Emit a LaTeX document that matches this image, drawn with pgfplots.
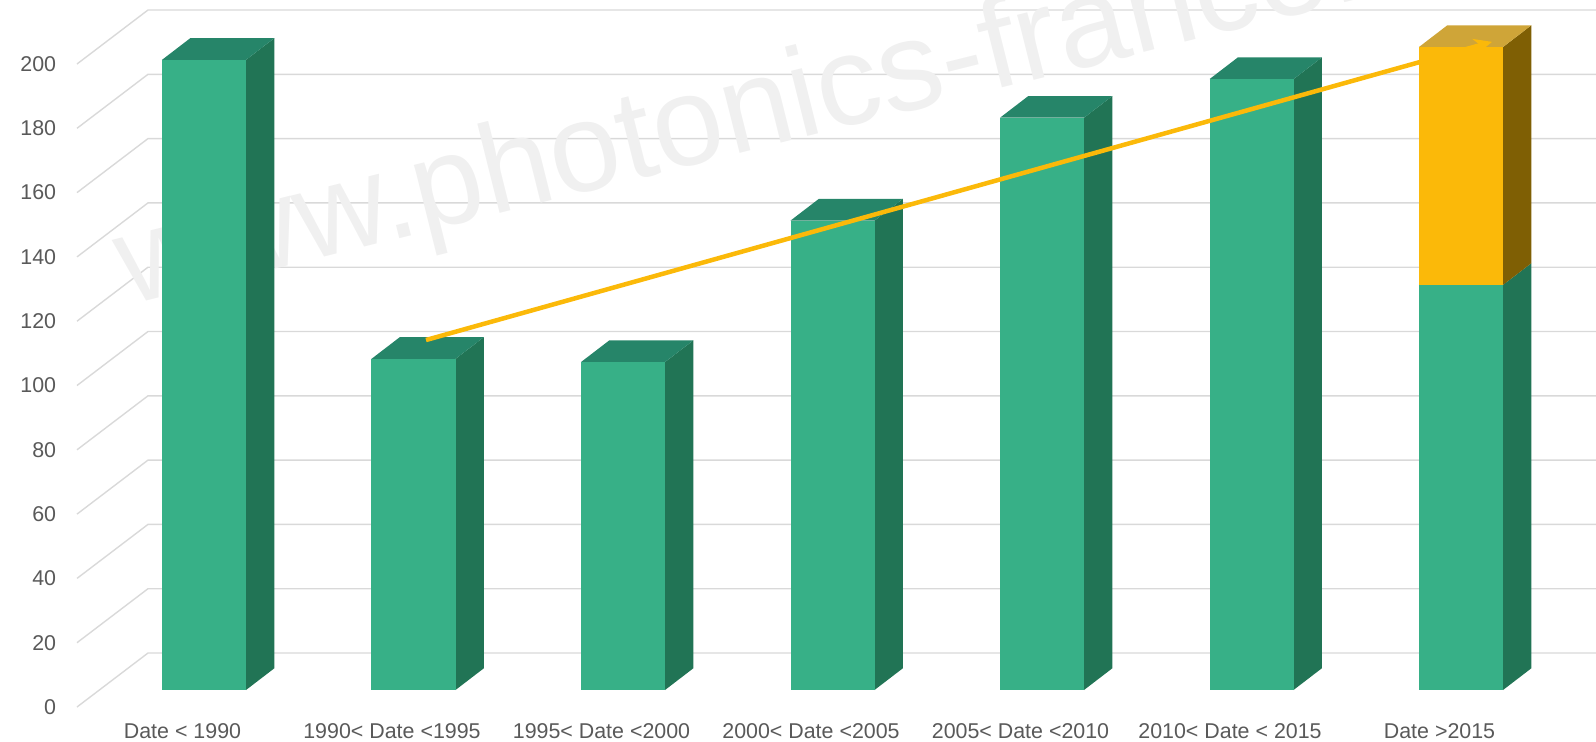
\documentclass[border=0pt]{standalone}
\usepackage{fontspec}
\setmainfont{Liberation Sans}
\usepackage{pgfplots}
\pgfplotsset{compat=1.18}
\usetikzlibrary{arrows.meta}
\definecolor{gfront}{HTML}{37B087}
\definecolor{gside}{HTML}{217455}
\definecolor{gtop}{HTML}{268569}
\definecolor{yfront}{HTML}{FBB909}
\definecolor{yside}{HTML}{7F5F04}
\definecolor{ytop}{HTML}{CFA538}
\definecolor{trend}{HTML}{FBB909}
\definecolor{gridc}{HTML}{D9D9D9}
\definecolor{txt}{HTML}{595959}
\definecolor{wm}{HTML}{F0F0F0}
\begin{document}
\begin{tikzpicture}
\begin{axis}[
  x=104.75pt, y=1.6075pt,
  xmin=-0.7041, xmax=6.6444, ymin=0, ymax=214.62,
  clip=false,
  axis line style={draw=none},
  tick style={draw=none},
  major tick length=0pt,
  xtick={0,1,2,3,4,5,6},
  xticklabels={Date < 1990, 1990< Date <1995, 1995< Date <2000, 2000< Date <2005, 2005< Date <2010, 2010< Date < 2015, Date >2015},
  ytick={0,20,...,200},
  /pgf/number format/assume math mode=true,
  tick label style={font=\fontsize{10.7}{12}\selectfont, text=txt},
  xticklabel style={anchor=base, inner sep=0pt, yshift=-24pt, xshift=-10.75pt},
  yticklabel style={anchor=east, inner sep=0pt, yshift=-8.5pt},
]
% gridlines (side wall + back wall)
\pgfplotsinvokeforeach{0,20,...,200}{
  \draw[gridc, line width=0.7pt] ([yshift=-8.5pt]axis cs:-0.6062,#1) -- ([yshift=18.5pt]axis cs:-0.2673,#1) -- ([yshift=18.5pt]axis cs:6.6444,#1);
}
% watermark
\node[anchor=base west, rotate=14, inner sep=0pt, text=wm,
      font=\fontsize{63.5}{63.5}\selectfont] at (axis cs:-0.3628,119.44) {www.photonics-france.org};

% bar 0 : 196
\addplot[fill=gside, draw=none] coordinates {(0.2005,0) (0.3356,6.75) (0.3356,202.75) (0.2005,196)} -- cycle;
\addplot[fill=gtop, draw=none] coordinates {(-0.2005,196) (0.2005,196) (0.3356,202.75) (-0.0654,202.75)} -- cycle;
\addplot[fill=gfront, draw=none] coordinates {(-0.2005,0) (0.2005,0) (0.2005,196) (-0.2005,196)} -- cycle;
% bar 1 : 103
\addplot[fill=gside, draw=none] coordinates {(1.2005,0) (1.3356,6.75) (1.3356,109.75) (1.2005,103)} -- cycle;
\addplot[fill=gtop, draw=none] coordinates {(0.7995,103) (1.2005,103) (1.3356,109.75) (0.9346,109.75)} -- cycle;
\addplot[fill=gfront, draw=none] coordinates {(0.7995,0) (1.2005,0) (1.2005,103) (0.7995,103)} -- cycle;
% bar 2 : 102
\addplot[fill=gside, draw=none] coordinates {(2.2005,0) (2.3356,6.75) (2.3356,108.75) (2.2005,102)} -- cycle;
\addplot[fill=gtop, draw=none] coordinates {(1.7995,102) (2.2005,102) (2.3356,108.75) (1.9346,108.75)} -- cycle;
\addplot[fill=gfront, draw=none] coordinates {(1.7995,0) (2.2005,0) (2.2005,102) (1.7995,102)} -- cycle;
% bar 3 : 146
\addplot[fill=gside, draw=none] coordinates {(3.2005,0) (3.3356,6.75) (3.3356,152.75) (3.2005,146)} -- cycle;
\addplot[fill=gtop, draw=none] coordinates {(2.7995,146) (3.2005,146) (3.3356,152.75) (2.9346,152.75)} -- cycle;
\addplot[fill=gfront, draw=none] coordinates {(2.7995,0) (3.2005,0) (3.2005,146) (2.7995,146)} -- cycle;
% bar 4 : 178
\addplot[fill=gside, draw=none] coordinates {(4.2005,0) (4.3356,6.75) (4.3356,184.75) (4.2005,178)} -- cycle;
\addplot[fill=gtop, draw=none] coordinates {(3.7995,178) (4.2005,178) (4.3356,184.75) (3.9346,184.75)} -- cycle;
\addplot[fill=gfront, draw=none] coordinates {(3.7995,0) (4.2005,0) (4.2005,178) (3.7995,178)} -- cycle;
% bar 5 : 190
\addplot[fill=gside, draw=none] coordinates {(5.2005,0) (5.3356,6.75) (5.3356,196.75) (5.2005,190)} -- cycle;
\addplot[fill=gtop, draw=none] coordinates {(4.7995,190) (5.2005,190) (5.3356,196.75) (4.9346,196.75)} -- cycle;
\addplot[fill=gfront, draw=none] coordinates {(4.7995,0) (5.2005,0) (5.2005,190) (4.7995,190)} -- cycle;
% bar 6 : 126 (green) + 74 (yellow) = 200
\addplot[fill=gside, draw=none] coordinates {(6.2005,0) (6.3356,6.75) (6.3356,132.75) (6.2005,126)} -- cycle;
\addplot[fill=gfront, draw=none] coordinates {(5.7995,0) (6.2005,0) (6.2005,126) (5.7995,126)} -- cycle;
\addplot[fill=yside, draw=none] coordinates {(6.2005,126) (6.3356,132.75) (6.3356,206.75) (6.2005,200)} -- cycle;
\addplot[fill=ytop, draw=none] coordinates {(5.7995,200) (6.2005,200) (6.3356,206.75) (5.9346,206.75)} -- cycle;
\addplot[fill=yfront, draw=none] coordinates {(5.7995,126) (6.2005,126) (6.2005,200) (5.7995,200)} -- cycle;

% trend arrow
\addplot[trend, line width=2.25pt, -{Stealth[length=9pt,width=8pt]}] coordinates {(1.0597,108.86) (6.148,201.6)};

\coordinate (bbBL) at (axis cs:-0.97375,-15.863);
\coordinate (bbTR) at (axis cs:6.6444,214.62);
\end{axis}
\pgfresetboundingbox
\path[use as bounding box] (bbBL) rectangle (bbTR);
\end{tikzpicture}
\end{document}
